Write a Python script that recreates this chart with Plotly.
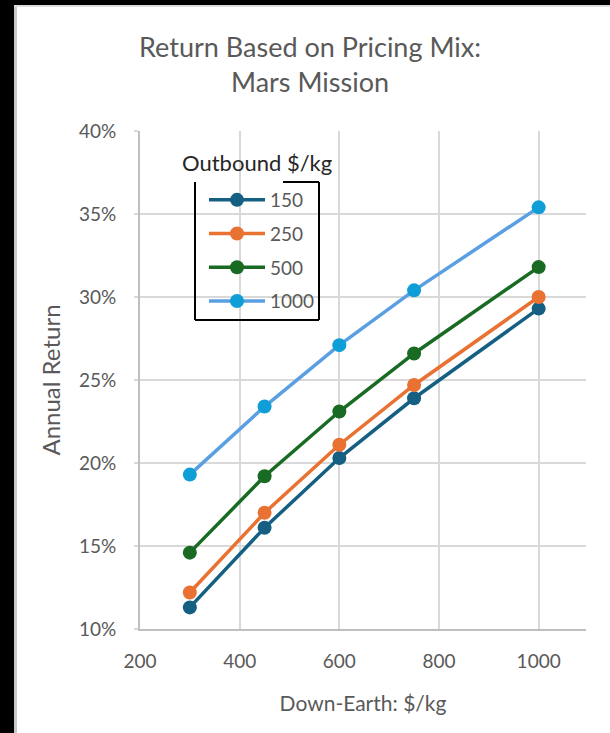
import plotly.graph_objects as go

down_earth = [300, 450, 600, 750, 1000]
outbound_labels = ["150", "250", "500", "1000"]
ret_150 = [11.3, 16.1, 20.3, 23.9, 29.3]
ret_250 = [12.2, 17.0, 21.1, 24.7, 30.0]
ret_500 = [14.6, 19.2, 23.1, 26.6, 31.8]
ret_1000 = [19.3, 23.4, 27.1, 30.4, 35.4]
x_ticks = [200, 400, 600, 800, 1000]
y_ticks = [10, 15, 20, 25, 30, 35, 40]

series = [ret_150, ret_250, ret_500, ret_1000]
line_colors = ["#156082", "#E97132", "#196B24", "#5B9FE3"]
marker_colors = ["#156082", "#E97132", "#196B24", "#0F9ED5"]

FONT = "Lato"
GRAY = "#595959"

W, H = 610, 733
L, R, T, B = 140, 586, 131, 629
pw, ph = R - L, B - T


def px(x):
    return (x - L) / pw


def py(y):
    return (B - y) / ph


fig = go.Figure()
for i, (vals, name) in enumerate(zip(series, outbound_labels)):
    fig.add_trace(go.Scatter(
        x=down_earth, y=[v / 100 for v in vals], name=name,
        mode="lines+markers", legendgroup=name,
        line=dict(color=line_colors[i], width=3.5),
        marker=dict(color=marker_colors[i], size=14),
    ))

shapes = []
# dark frame strips (screenshot border)
shapes.append(dict(type="rect", xref="paper", yref="paper", x0=px(0), x1=px(14), y0=py(H), y1=py(0),
                   fillcolor="black", line=dict(width=0), layer="below"))
shapes.append(dict(type="rect", xref="paper", yref="paper", x0=px(14), x1=px(17), y0=py(H), y1=py(5),
                   fillcolor="#c8c8c8", line=dict(width=0), layer="below"))
shapes.append(dict(type="rect", xref="paper", yref="paper", x0=px(0), x1=px(W), y0=py(5), y1=py(0),
                   fillcolor="black", line=dict(width=0), layer="below"))
shapes.append(dict(type="rect", xref="paper", yref="paper", x0=px(14), x1=px(W), y0=py(7), y1=py(5),
                   fillcolor="#dcdcdc", line=dict(width=0), layer="below"))
# legend box
bx0, bx1, by0, by1 = 195, 319, 182, 320
for (x0, y0, x1, y1) in [(bx0, by0, bx0, by1), (bx0, by1, bx1, by1), (bx1, by0, bx1, by1), (283, by0, bx1, by0)]:
    shapes.append(dict(type="line", xref="paper", yref="paper", x0=px(x0), x1=px(x1), y0=py(y0), y1=py(y1),
                       line=dict(color="black", width=2)))

fig.update_layout(
    width=W, height=H,
    margin=dict(l=L, r=W - R, t=T, b=H - B),
    paper_bgcolor="white", plot_bgcolor="white",
    font=dict(family=FONT, color=GRAY, size=19),
    title=dict(text="Return Based on Pricing Mix:<br>Mars Mission", x=310 / W, xanchor="center",
               y=1 - 57 / H, yanchor="middle", font=dict(size=27, color=GRAY, family=FONT)),
    showlegend=True,
    legend=dict(x=px(204), y=py(181), xanchor="left", yanchor="top", bgcolor="rgba(0,0,0,0)",
                borderwidth=0, font=dict(size=19, color=GRAY, family=FONT), tracegroupgap=6,
                itemwidth=56),
    shapes=shapes,
    annotations=[dict(text="Outbound $/kg", xref="paper", yref="paper", x=px(257), y=py(162),
                      xanchor="center", yanchor="middle", showarrow=False,
                      font=dict(size=22, color="#262626", family=FONT))],
)
fig.update_xaxes(
    range=[200, 1095], tickvals=x_ticks, showgrid=True, gridcolor="#d9d9d9", gridwidth=2,
    showline=True, linecolor="#bfbfbf", linewidth=2, zeroline=False, ticks="",
    ticklabelstandoff=14, tickfont=dict(size=19, color=GRAY),
    title=dict(text="Down-Earth: $/kg", font=dict(size=21, color=GRAY), standoff=26),
)
fig.update_yaxes(
    range=[0.10, 0.40], tickvals=[v / 100 for v in y_ticks], tickformat=".0%",
    showgrid=True, gridcolor="#d9d9d9", gridwidth=2,
    showline=True, linecolor="#bfbfbf", linewidth=2, zeroline=False,
    ticks="outside", ticklen=4, tickcolor="#d9d9d9", tickwidth=2,
    ticklabelstandoff=14, tickfont=dict(size=19, color=GRAY),
    title=dict(text="Annual Return", font=dict(size=24, color=GRAY), standoff=12),
)
fig.write_html("out.html", config={"displayModeBar": False},
               post_script="document.body.style.margin='0';document.body.style.overflow='hidden';")
